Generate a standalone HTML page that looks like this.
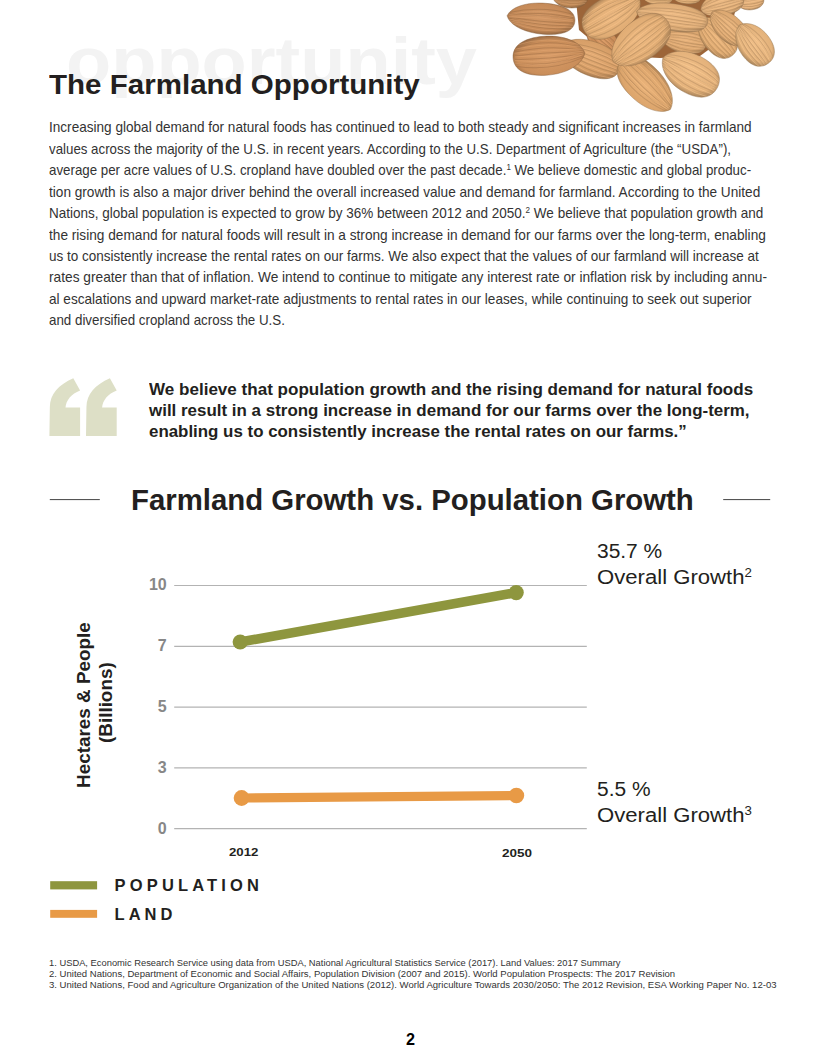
<!DOCTYPE html>
<html><head><meta charset="utf-8"><style>
*{margin:0;padding:0;box-sizing:border-box}
html,body{width:820px;height:1061px;background:#fff;overflow:hidden}
body{position:relative;font-family:"Liberation Sans", sans-serif}
.t{position:absolute;white-space:nowrap;line-height:1.117;transform-origin:0 0}
.t sup{font-size:0.6em;vertical-align:0.55em;line-height:0}
.t sup.s2{font-size:0.6em;vertical-align:0.62em}
svg.bg{position:absolute;left:0;top:0}
</style></head>
<body>
<svg class="bg" width="820" height="1061" viewBox="0 0 820 1061">
<g id="almonds"><defs><radialGradient id="g0" cx="0.5" cy="0.45" r="0.6"><stop offset="0" stop-color="#ce9866"/><stop offset="0.72" stop-color="#c08a58"/><stop offset="1" stop-color="#825d3b"/></radialGradient><clipPath id="c0"><path d="M-18.0,0 C-16.2,-7.2 -8.1,-12.0 1.8,-12.0 C12.6,-12.0 18.0,-7.2 18.0,0 C18.0,7.2 12.6,12.0 1.8,12.0 C-8.1,12.0 -16.2,7.2 -18.0,0Z"/></clipPath><radialGradient id="g1" cx="0.5" cy="0.45" r="0.6"><stop offset="0" stop-color="#e7b67f"/><stop offset="0.72" stop-color="#d9a871"/><stop offset="1" stop-color="#93724c"/></radialGradient><clipPath id="c1"><path d="M-15.0,0 C-13.5,-4.8 -6.8,-8.0 1.5,-8.0 C10.5,-8.0 15.0,-4.8 15.0,0 C15.0,4.8 10.5,8.0 1.5,8.0 C-6.8,8.0 -13.5,4.8 -15.0,0Z"/></clipPath><radialGradient id="g2" cx="0.5" cy="0.45" r="0.6"><stop offset="0" stop-color="#e7b67f"/><stop offset="0.72" stop-color="#d9a871"/><stop offset="1" stop-color="#93724c"/></radialGradient><clipPath id="c2"><path d="M-14.0,0 C-12.6,-4.2 -6.3,-7.0 1.4,-7.0 C9.8,-7.0 14.0,-4.2 14.0,0 C14.0,4.2 9.8,7.0 1.4,7.0 C-6.3,7.0 -12.6,4.2 -14.0,0Z"/></clipPath><radialGradient id="g3" cx="0.5" cy="0.45" r="0.6"><stop offset="0" stop-color="#ecba84"/><stop offset="0.72" stop-color="#deac76"/><stop offset="1" stop-color="#967450"/></radialGradient><clipPath id="c3"><path d="M-14.0,0 C-12.6,-6.0 -6.3,-10.0 1.4,-10.0 C9.8,-10.0 14.0,-6.0 14.0,0 C14.0,6.0 9.8,10.0 1.4,10.0 C-6.3,10.0 -12.6,6.0 -14.0,0Z"/></clipPath><radialGradient id="g4" cx="0.5" cy="0.45" r="0.6"><stop offset="0" stop-color="#ecba84"/><stop offset="0.72" stop-color="#deac76"/><stop offset="1" stop-color="#967450"/></radialGradient><clipPath id="c4"><path d="M-22.0,0 C-19.8,-7.2 -9.9,-12.0 2.2,-12.0 C15.4,-12.0 22.0,-7.2 22.0,0 C22.0,7.2 15.4,12.0 2.2,12.0 C-9.9,12.0 -19.8,7.2 -22.0,0Z"/></clipPath><radialGradient id="g5" cx="0.5" cy="0.45" r="0.6"><stop offset="0" stop-color="#e7b37c"/><stop offset="0.72" stop-color="#d9a56e"/><stop offset="1" stop-color="#93704a"/></radialGradient><clipPath id="c5"><path d="M-23.0,0 C-20.7,-7.8 -10.3,-13.0 2.3,-13.0 C16.1,-13.0 23.0,-7.8 23.0,0 C23.0,7.8 16.1,13.0 2.3,13.0 C-10.3,13.0 -20.7,7.8 -23.0,0Z"/></clipPath><radialGradient id="g6" cx="0.5" cy="0.45" r="0.6"><stop offset="0" stop-color="#d89a66"/><stop offset="0.72" stop-color="#ca8c58"/><stop offset="1" stop-color="#895f3b"/></radialGradient><clipPath id="c6"><path d="M-18.0,0 C-16.2,-7.2 -8.1,-12.0 1.8,-12.0 C12.6,-12.0 18.0,-7.2 18.0,0 C18.0,7.2 12.6,12.0 1.8,12.0 C-8.1,12.0 -16.2,7.2 -18.0,0Z"/></clipPath><radialGradient id="g7" cx="0.5" cy="0.45" r="0.6"><stop offset="0" stop-color="#e4ac75"/><stop offset="0.72" stop-color="#d69e67"/><stop offset="1" stop-color="#916b46"/></radialGradient><clipPath id="c7"><path d="M-32.0,0 C-28.8,-10.2 -14.4,-17.0 3.2,-17.0 C22.4,-17.0 32.0,-10.2 32.0,0 C32.0,10.2 22.4,17.0 3.2,17.0 C-14.4,17.0 -28.8,10.2 -32.0,0Z"/></clipPath><radialGradient id="g8" cx="0.5" cy="0.45" r="0.6"><stop offset="0" stop-color="#ecb87f"/><stop offset="0.72" stop-color="#deaa71"/><stop offset="1" stop-color="#96734c"/></radialGradient><clipPath id="c8"><path d="M-24.0,0 C-21.6,-9.0 -10.8,-15.0 2.4,-15.0 C16.8,-15.0 24.0,-9.0 24.0,0 C24.0,9.0 16.8,15.0 2.4,15.0 C-10.8,15.0 -21.6,9.0 -24.0,0Z"/></clipPath><radialGradient id="g9" cx="0.5" cy="0.45" r="0.6"><stop offset="0" stop-color="#eab67f"/><stop offset="0.72" stop-color="#dca871"/><stop offset="1" stop-color="#95724c"/></radialGradient><clipPath id="c9"><path d="M-22.0,0 C-19.8,-7.8 -9.9,-13.0 2.2,-13.0 C15.4,-13.0 22.0,-7.8 22.0,0 C22.0,7.8 15.4,13.0 2.2,13.0 C-9.9,13.0 -19.8,7.8 -22.0,0Z"/></clipPath><radialGradient id="g10" cx="0.5" cy="0.45" r="0.6"><stop offset="0" stop-color="#f1c089"/><stop offset="0.72" stop-color="#e3b27b"/><stop offset="1" stop-color="#9a7953"/></radialGradient><clipPath id="c10"><path d="M-24.0,0 C-21.6,-9.6 -10.8,-16.0 2.4,-16.0 C16.8,-16.0 24.0,-9.6 24.0,0 C24.0,9.6 16.8,16.0 2.4,16.0 C-10.8,16.0 -21.6,9.6 -24.0,0Z"/></clipPath><radialGradient id="g11" cx="0.5" cy="0.45" r="0.6"><stop offset="0" stop-color="#d39866"/><stop offset="0.72" stop-color="#c58a58"/><stop offset="1" stop-color="#855d3b"/></radialGradient><clipPath id="c11"><path d="M-34.0,0 C-30.6,-9.3 -15.3,-15.5 3.4,-15.5 C23.8,-15.5 34.0,-9.3 34.0,0 C34.0,9.3 23.8,15.5 3.4,15.5 C-15.3,15.5 -30.6,9.3 -34.0,0Z"/></clipPath><radialGradient id="g12" cx="0.5" cy="0.45" r="0.6"><stop offset="0" stop-color="#eeba82"/><stop offset="0.72" stop-color="#e0ac74"/><stop offset="1" stop-color="#98744e"/></radialGradient><clipPath id="c12"><path d="M-32.0,0 C-28.8,-11.4 -14.4,-19.0 3.2,-19.0 C22.4,-19.0 32.0,-11.4 32.0,0 C32.0,11.4 22.4,19.0 3.2,19.0 C-14.4,19.0 -28.8,11.4 -32.0,0Z"/></clipPath><radialGradient id="g13" cx="0.5" cy="0.45" r="0.6"><stop offset="0" stop-color="#ecba84"/><stop offset="0.72" stop-color="#deac76"/><stop offset="1" stop-color="#967450"/></radialGradient><clipPath id="c13"><path d="M-36.0,0 C-32.4,-8.1 -16.2,-13.5 3.6,-13.5 C25.2,-13.5 36.0,-8.1 36.0,0 C36.0,8.1 25.2,13.5 3.6,13.5 C-16.2,13.5 -32.4,8.1 -36.0,0Z"/></clipPath><radialGradient id="g14" cx="0.5" cy="0.45" r="0.6"><stop offset="0" stop-color="#f2c089"/><stop offset="0.72" stop-color="#e4b27b"/><stop offset="1" stop-color="#9b7953"/></radialGradient><clipPath id="c14"><path d="M-31.0,0 C-27.9,-11.7 -14.0,-19.5 3.1,-19.5 C21.7,-19.5 31.0,-11.7 31.0,0 C31.0,11.7 21.7,19.5 3.1,19.5 C-14.0,19.5 -27.9,11.7 -31.0,0Z"/></clipPath><radialGradient id="g15" cx="0.5" cy="0.45" r="0.6"><stop offset="0" stop-color="#eab37a"/><stop offset="0.72" stop-color="#dca56c"/><stop offset="1" stop-color="#957049"/></radialGradient><clipPath id="c15"><path d="M-34.5,0 C-31.1,-11.1 -15.5,-18.5 3.5,-18.5 C24.1,-18.5 34.5,-11.1 34.5,0 C34.5,11.1 24.1,18.5 3.5,18.5 C-15.5,18.5 -31.1,11.1 -34.5,0Z"/></clipPath><radialGradient id="g16" cx="0.5" cy="0.45" r="0.6"><stop offset="0" stop-color="#d89c68"/><stop offset="0.72" stop-color="#ca8e5a"/><stop offset="1" stop-color="#89603d"/></radialGradient><clipPath id="c16"><path d="M-36.0,0 C-32.4,-11.7 -16.2,-19.5 3.6,-19.5 C25.2,-19.5 36.0,-11.7 36.0,0 C36.0,11.7 25.2,19.5 3.6,19.5 C-16.2,19.5 -32.4,11.7 -36.0,0Z"/></clipPath><radialGradient id="g17" cx="0.5" cy="0.45" r="0.6"><stop offset="0" stop-color="#eeba82"/><stop offset="0.72" stop-color="#e0ac74"/><stop offset="1" stop-color="#98744e"/></radialGradient><clipPath id="c17"><path d="M-34.0,0 C-30.6,-12.0 -15.3,-20.0 3.4,-20.0 C23.8,-20.0 34.0,-12.0 34.0,0 C34.0,12.0 23.8,20.0 3.4,20.0 C-15.3,20.0 -30.6,12.0 -34.0,0Z"/></clipPath></defs><path d="M576,0 L738,0 L733,20 L715,45 L700,56 L660,58 L620,56 L598,46 L579,30 Z" fill="#9c6539"/><g transform="translate(570,-4) rotate(0)"><path d="M-18.0,0 C-16.2,-7.2 -8.1,-12.0 1.8,-12.0 C12.6,-12.0 18.0,-7.2 18.0,0 C18.0,7.2 12.6,12.0 1.8,12.0 C-8.1,12.0 -16.2,7.2 -18.0,0Z" fill="url(#g0)" stroke="#825d3b" stroke-width="0.7" stroke-opacity="0.6"/><g clip-path="url(#c0)" fill="none"><path d="M-17.1,-3.0 Q0.0,-11.7 17.1,-5.8 M-17.1,-1.7 Q0.0,-6.6 17.1,-3.3 M-17.1,-0.7 Q0.0,-2.5 17.1,-1.3 M-17.1,0.6 Q0.0,2.4 17.1,1.2 M-17.1,1.8 Q0.0,6.9 17.1,3.5 M-17.1,2.6 Q0.0,10.1 17.1,5.1" stroke="#956b44" stroke-width="1" opacity="0.5"/><path d="M-17.1,-3.0 Q0.0,-11.7 17.1,-5.8 M-17.1,-1.7 Q0.0,-6.6 17.1,-3.3 M-17.1,-0.7 Q0.0,-2.5 17.1,-1.3 M-17.1,0.6 Q0.0,2.4 17.1,1.2 M-17.1,1.8 Q0.0,6.9 17.1,3.5 M-17.1,2.6 Q0.0,10.1 17.1,5.1" transform="translate(0,1.8)" stroke="#dea876" stroke-width="0.8" opacity="0.5"/></g></g><g transform="translate(658,-3) rotate(0)"><path d="M-15.0,0 C-13.5,-4.8 -6.8,-8.0 1.5,-8.0 C10.5,-8.0 15.0,-4.8 15.0,0 C15.0,4.8 10.5,8.0 1.5,8.0 C-6.8,8.0 -13.5,4.8 -15.0,0Z" fill="url(#g1)" stroke="#93724c" stroke-width="0.7" stroke-opacity="0.6"/><g clip-path="url(#c1)" fill="none"><path d="M-14.2,-2.1 Q0.0,-8.1 14.2,-4.1 M-14.2,-1.0 Q0.0,-3.9 14.2,-2.0 M-14.2,-0.5 Q0.0,-1.8 14.2,-0.9 M-14.2,0.3 Q0.0,1.1 14.2,0.5 M-14.2,1.3 Q0.0,5.2 14.2,2.6 M-14.2,1.9 Q0.0,7.3 14.2,3.7" stroke="#a98358" stroke-width="1" opacity="0.5"/><path d="M-14.2,-2.1 Q0.0,-8.1 14.2,-4.1 M-14.2,-1.0 Q0.0,-3.9 14.2,-2.0 M-14.2,-0.5 Q0.0,-1.8 14.2,-0.9 M-14.2,0.3 Q0.0,1.1 14.2,0.5 M-14.2,1.3 Q0.0,5.2 14.2,2.6 M-14.2,1.9 Q0.0,7.3 14.2,3.7" transform="translate(0,1.2)" stroke="#f7c68f" stroke-width="0.8" opacity="0.5"/></g></g><g transform="translate(687,-3) rotate(0)"><path d="M-14.0,0 C-12.6,-4.2 -6.3,-7.0 1.4,-7.0 C9.8,-7.0 14.0,-4.2 14.0,0 C14.0,4.2 9.8,7.0 1.4,7.0 C-6.3,7.0 -12.6,4.2 -14.0,0Z" fill="url(#g2)" stroke="#93724c" stroke-width="0.7" stroke-opacity="0.6"/><g clip-path="url(#c2)" fill="none"><path d="M-13.3,-1.6 Q0.0,-6.0 13.3,-3.0 M-13.3,-1.0 Q0.0,-3.9 13.3,-2.0 M-13.3,-0.3 Q0.0,-1.1 13.3,-0.6 M-13.3,0.2 Q0.0,0.8 13.3,0.4 M-13.3,1.1 Q0.0,4.1 13.3,2.0 M-13.3,1.8 Q0.0,6.9 13.3,3.5" stroke="#a98358" stroke-width="1" opacity="0.5"/><path d="M-13.3,-1.6 Q0.0,-6.0 13.3,-3.0 M-13.3,-1.0 Q0.0,-3.9 13.3,-2.0 M-13.3,-0.3 Q0.0,-1.1 13.3,-0.6 M-13.3,0.2 Q0.0,0.8 13.3,0.4 M-13.3,1.1 Q0.0,4.1 13.3,2.0 M-13.3,1.8 Q0.0,6.9 13.3,3.5" transform="translate(0,1.1)" stroke="#f7c68f" stroke-width="0.8" opacity="0.5"/></g></g><g transform="translate(750,0) rotate(-10)"><path d="M-14.0,0 C-12.6,-6.0 -6.3,-10.0 1.4,-10.0 C9.8,-10.0 14.0,-6.0 14.0,0 C14.0,6.0 9.8,10.0 1.4,10.0 C-6.3,10.0 -12.6,6.0 -14.0,0Z" fill="url(#g3)" stroke="#967450" stroke-width="0.7" stroke-opacity="0.6"/><g clip-path="url(#c3)" fill="none"><path d="M-13.3,-2.4 Q0.0,-9.2 13.3,-4.6 M-13.3,-1.3 Q0.0,-5.1 13.3,-2.5 M-13.3,-0.4 Q0.0,-1.5 13.3,-0.8 M-13.3,0.3 Q0.0,1.0 13.3,0.5 M-13.3,1.6 Q0.0,6.0 13.3,3.0 M-13.3,2.4 Q0.0,9.4 13.3,4.7" stroke="#ad865c" stroke-width="1" opacity="0.5"/><path d="M-13.3,-2.4 Q0.0,-9.2 13.3,-4.6 M-13.3,-1.3 Q0.0,-5.1 13.3,-2.5 M-13.3,-0.4 Q0.0,-1.5 13.3,-0.8 M-13.3,0.3 Q0.0,1.0 13.3,0.5 M-13.3,1.6 Q0.0,6.0 13.3,3.0 M-13.3,2.4 Q0.0,9.4 13.3,4.7" transform="translate(0,1.5)" stroke="#fcca94" stroke-width="0.8" opacity="0.5"/></g></g><g transform="translate(722,4) rotate(-15)"><path d="M-22.0,0 C-19.8,-7.2 -9.9,-12.0 2.2,-12.0 C15.4,-12.0 22.0,-7.2 22.0,0 C22.0,7.2 15.4,12.0 2.2,12.0 C-9.9,12.0 -19.8,7.2 -22.0,0Z" fill="url(#g4)" stroke="#967450" stroke-width="0.7" stroke-opacity="0.6"/><g clip-path="url(#c4)" fill="none"><path d="M-20.9,-3.0 Q0.0,-11.5 20.9,-5.8 M-20.9,-2.0 Q0.0,-7.7 20.9,-3.8 M-20.9,-0.4 Q0.0,-1.4 20.9,-0.7 M-20.9,0.6 Q0.0,2.2 20.9,1.1 M-20.9,1.9 Q0.0,7.1 20.9,3.6 M-20.9,3.1 Q0.0,11.9 20.9,6.0" stroke="#ad865c" stroke-width="1" opacity="0.5"/><path d="M-20.9,-3.0 Q0.0,-11.5 20.9,-5.8 M-20.9,-2.0 Q0.0,-7.7 20.9,-3.8 M-20.9,-0.4 Q0.0,-1.4 20.9,-0.7 M-20.9,0.6 Q0.0,2.2 20.9,1.1 M-20.9,1.9 Q0.0,7.1 20.9,3.6 M-20.9,3.1 Q0.0,11.9 20.9,6.0" transform="translate(0,1.8)" stroke="#fcca94" stroke-width="0.8" opacity="0.5"/></g></g><g transform="translate(684,40) rotate(10)"><path d="M-23.0,0 C-20.7,-7.8 -10.3,-13.0 2.3,-13.0 C16.1,-13.0 23.0,-7.8 23.0,0 C23.0,7.8 16.1,13.0 2.3,13.0 C-10.3,13.0 -20.7,7.8 -23.0,0Z" fill="url(#g5)" stroke="#93704a" stroke-width="0.7" stroke-opacity="0.6"/><g clip-path="url(#c5)" fill="none"><path d="M-21.8,-3.0 Q0.0,-11.5 21.8,-5.7 M-21.8,-1.6 Q0.0,-6.2 21.8,-3.1 M-21.8,-0.7 Q0.0,-2.7 21.8,-1.3 M-21.8,0.8 Q0.0,3.1 21.8,1.6 M-21.8,1.8 Q0.0,7.1 21.8,3.5 M-21.8,3.4 Q0.0,13.1 21.8,6.5" stroke="#a98055" stroke-width="1" opacity="0.5"/><path d="M-21.8,-3.0 Q0.0,-11.5 21.8,-5.7 M-21.8,-1.6 Q0.0,-6.2 21.8,-3.1 M-21.8,-0.7 Q0.0,-2.7 21.8,-1.3 M-21.8,0.8 Q0.0,3.1 21.8,1.6 M-21.8,1.8 Q0.0,7.1 21.8,3.5 M-21.8,3.4 Q0.0,13.1 21.8,6.5" transform="translate(0,1.9)" stroke="#f7c38c" stroke-width="0.8" opacity="0.5"/></g></g><g transform="translate(602,40) rotate(40)"><path d="M-18.0,0 C-16.2,-7.2 -8.1,-12.0 1.8,-12.0 C12.6,-12.0 18.0,-7.2 18.0,0 C18.0,7.2 12.6,12.0 1.8,12.0 C-8.1,12.0 -16.2,7.2 -18.0,0Z" fill="url(#g6)" stroke="#895f3b" stroke-width="0.7" stroke-opacity="0.6"/><g clip-path="url(#c6)" fill="none"><path d="M-17.1,-2.7 Q0.0,-10.2 17.1,-5.1 M-17.1,-2.0 Q0.0,-7.5 17.1,-3.8 M-17.1,-0.8 Q0.0,-3.0 17.1,-1.5 M-17.1,0.4 Q0.0,1.6 17.1,0.8 M-17.1,2.0 Q0.0,7.7 17.1,3.8 M-17.1,2.8 Q0.0,10.9 17.1,5.5" stroke="#9d6d44" stroke-width="1" opacity="0.5"/><path d="M-17.1,-2.7 Q0.0,-10.2 17.1,-5.1 M-17.1,-2.0 Q0.0,-7.5 17.1,-3.8 M-17.1,-0.8 Q0.0,-3.0 17.1,-1.5 M-17.1,0.4 Q0.0,1.6 17.1,0.8 M-17.1,2.0 Q0.0,7.7 17.1,3.8 M-17.1,2.8 Q0.0,10.9 17.1,5.5" transform="translate(0,1.8)" stroke="#e8aa76" stroke-width="0.8" opacity="0.5"/></g></g><g transform="translate(590,58) rotate(21)"><path d="M-32.0,0 C-28.8,-10.2 -14.4,-17.0 3.2,-17.0 C22.4,-17.0 32.0,-10.2 32.0,0 C32.0,10.2 22.4,17.0 3.2,17.0 C-14.4,17.0 -28.8,10.2 -32.0,0Z" fill="url(#g7)" stroke="#916b46" stroke-width="0.7" stroke-opacity="0.6"/><g clip-path="url(#c7)" fill="none"><path d="M-30.4,-4.0 Q0.0,-15.3 30.4,-7.7 M-30.4,-2.6 Q0.0,-10.0 30.4,-5.0 M-30.4,-0.8 Q0.0,-3.1 30.4,-1.6 M-30.4,0.7 Q0.0,2.8 30.4,1.4 M-30.4,2.3 Q0.0,9.0 30.4,4.5 M-30.4,4.1 Q0.0,16.0 30.4,8.0" stroke="#a67b50" stroke-width="1" opacity="0.5"/><path d="M-30.4,-4.0 Q0.0,-15.3 30.4,-7.7 M-30.4,-2.6 Q0.0,-10.0 30.4,-5.0 M-30.4,-0.8 Q0.0,-3.1 30.4,-1.6 M-30.4,0.7 Q0.0,2.8 30.4,1.4 M-30.4,2.3 Q0.0,9.0 30.4,4.5 M-30.4,4.1 Q0.0,16.0 30.4,8.0" transform="translate(0,2.5)" stroke="#f4bc85" stroke-width="0.8" opacity="0.5"/></g></g><g transform="translate(717,37) rotate(48)"><path d="M-24.0,0 C-21.6,-9.0 -10.8,-15.0 2.4,-15.0 C16.8,-15.0 24.0,-9.0 24.0,0 C24.0,9.0 16.8,15.0 2.4,15.0 C-10.8,15.0 -21.6,9.0 -24.0,0Z" fill="url(#g8)" stroke="#96734c" stroke-width="0.7" stroke-opacity="0.6"/><g clip-path="url(#c8)" fill="none"><path d="M-22.8,-3.5 Q0.0,-13.6 22.8,-6.8 M-22.8,-1.9 Q0.0,-7.2 22.8,-3.6 M-22.8,-0.6 Q0.0,-2.3 22.8,-1.1 M-22.8,1.0 Q0.0,4.0 22.8,2.0 M-22.8,2.4 Q0.0,9.3 22.8,4.7 M-22.8,4.0 Q0.0,15.2 22.8,7.6" stroke="#ad8458" stroke-width="1" opacity="0.5"/><path d="M-22.8,-3.5 Q0.0,-13.6 22.8,-6.8 M-22.8,-1.9 Q0.0,-7.2 22.8,-3.6 M-22.8,-0.6 Q0.0,-2.3 22.8,-1.1 M-22.8,1.0 Q0.0,4.0 22.8,2.0 M-22.8,2.4 Q0.0,9.3 22.8,4.7 M-22.8,4.0 Q0.0,15.2 22.8,7.6" transform="translate(0,2.2)" stroke="#fcc88f" stroke-width="0.8" opacity="0.5"/></g></g><g transform="translate(728,27) rotate(43)"><path d="M-22.0,0 C-19.8,-7.8 -9.9,-13.0 2.2,-13.0 C15.4,-13.0 22.0,-7.8 22.0,0 C22.0,7.8 15.4,13.0 2.2,13.0 C-9.9,13.0 -19.8,7.8 -22.0,0Z" fill="url(#g9)" stroke="#95724c" stroke-width="0.7" stroke-opacity="0.6"/><g clip-path="url(#c9)" fill="none"><path d="M-20.9,-3.0 Q0.0,-11.6 20.9,-5.8 M-20.9,-2.1 Q0.0,-8.0 20.9,-4.0 M-20.9,-0.4 Q0.0,-1.5 20.9,-0.8 M-20.9,0.9 Q0.0,3.5 20.9,1.8 M-20.9,2.1 Q0.0,8.2 20.9,4.1 M-20.9,3.2 Q0.0,12.2 20.9,6.1" stroke="#ab8358" stroke-width="1" opacity="0.5"/><path d="M-20.9,-3.0 Q0.0,-11.6 20.9,-5.8 M-20.9,-2.1 Q0.0,-8.0 20.9,-4.0 M-20.9,-0.4 Q0.0,-1.5 20.9,-0.8 M-20.9,0.9 Q0.0,3.5 20.9,1.8 M-20.9,2.1 Q0.0,8.2 20.9,4.1 M-20.9,3.2 Q0.0,12.2 20.9,6.1" transform="translate(0,1.9)" stroke="#fac68f" stroke-width="0.8" opacity="0.5"/></g></g><g transform="translate(754,44) rotate(53)"><path d="M-24.0,0 C-21.6,-9.6 -10.8,-16.0 2.4,-16.0 C16.8,-16.0 24.0,-9.6 24.0,0 C24.0,9.6 16.8,16.0 2.4,16.0 C-10.8,16.0 -21.6,9.6 -24.0,0Z" fill="url(#g10)" stroke="#9a7953" stroke-width="0.7" stroke-opacity="0.6"/><g clip-path="url(#c10)" fill="none"><path d="M-22.8,-3.7 Q0.0,-14.2 22.8,-7.1 M-22.8,-2.5 Q0.0,-9.7 22.8,-4.9 M-22.8,-0.5 Q0.0,-2.0 22.8,-1.0 M-22.8,0.8 Q0.0,3.2 22.8,1.6 M-22.8,2.1 Q0.0,8.2 22.8,4.1 M-22.8,3.5 Q0.0,13.5 22.8,6.7" stroke="#b18a5f" stroke-width="1" opacity="0.5"/><path d="M-22.8,-3.7 Q0.0,-14.2 22.8,-7.1 M-22.8,-2.5 Q0.0,-9.7 22.8,-4.9 M-22.8,-0.5 Q0.0,-2.0 22.8,-1.0 M-22.8,0.8 Q0.0,3.2 22.8,1.6 M-22.8,2.1 Q0.0,8.2 22.8,4.1 M-22.8,3.5 Q0.0,13.5 22.8,6.7" transform="translate(0,2.4)" stroke="#ffd099" stroke-width="0.8" opacity="0.5"/></g></g><g transform="translate(541,18.5) rotate(4.6)"><path d="M-34.0,0 C-30.6,-9.3 -15.3,-15.5 3.4,-15.5 C23.8,-15.5 34.0,-9.3 34.0,0 C34.0,9.3 23.8,15.5 3.4,15.5 C-15.3,15.5 -30.6,9.3 -34.0,0Z" fill="url(#g11)" stroke="#855d3b" stroke-width="0.7" stroke-opacity="0.6"/><g clip-path="url(#c11)" fill="none"><path d="M-32.3,-3.5 Q0.0,-13.3 32.3,-6.7 M-32.3,-1.9 Q0.0,-7.2 32.3,-3.6 M-32.3,-1.1 Q0.0,-4.0 32.3,-2.0 M-32.3,1.0 Q0.0,3.7 32.3,1.9 M-32.3,2.2 Q0.0,8.3 32.3,4.2 M-32.3,3.5 Q0.0,13.3 32.3,6.7" stroke="#996b44" stroke-width="1" opacity="0.5"/><path d="M-32.3,-3.5 Q0.0,-13.3 32.3,-6.7 M-32.3,-1.9 Q0.0,-7.2 32.3,-3.6 M-32.3,-1.1 Q0.0,-4.0 32.3,-2.0 M-32.3,1.0 Q0.0,3.7 32.3,1.9 M-32.3,2.2 Q0.0,8.3 32.3,4.2 M-32.3,3.5 Q0.0,13.3 32.3,6.7" transform="translate(0,2.3)" stroke="#e3a876" stroke-width="0.8" opacity="0.5"/></g></g><g transform="translate(612,15) rotate(150)"><path d="M-32.0,0 C-28.8,-11.4 -14.4,-19.0 3.2,-19.0 C22.4,-19.0 32.0,-11.4 32.0,0 C32.0,11.4 22.4,19.0 3.2,19.0 C-14.4,19.0 -28.8,11.4 -32.0,0Z" fill="url(#g12)" stroke="#98744e" stroke-width="0.7" stroke-opacity="0.6"/><g clip-path="url(#c12)" fill="none"><path d="M-30.4,-4.7 Q0.0,-18.3 30.4,-9.1 M-30.4,-2.5 Q0.0,-9.6 30.4,-4.8 M-30.4,-0.6 Q0.0,-2.2 30.4,-1.1 M-30.4,0.5 Q0.0,1.9 30.4,1.0 M-30.4,2.8 Q0.0,10.9 30.4,5.5 M-30.4,4.1 Q0.0,16.0 30.4,8.0" stroke="#ae865a" stroke-width="1" opacity="0.5"/><path d="M-30.4,-4.7 Q0.0,-18.3 30.4,-9.1 M-30.4,-2.5 Q0.0,-9.6 30.4,-4.8 M-30.4,-0.6 Q0.0,-2.2 30.4,-1.1 M-30.4,0.5 Q0.0,1.9 30.4,1.0 M-30.4,2.8 Q0.0,10.9 30.4,5.5 M-30.4,4.1 Q0.0,16.0 30.4,8.0" transform="translate(0,2.9)" stroke="#feca92" stroke-width="0.8" opacity="0.5"/></g></g><g transform="translate(672,17) rotate(8.7)"><path d="M-36.0,0 C-32.4,-8.1 -16.2,-13.5 3.6,-13.5 C25.2,-13.5 36.0,-8.1 36.0,0 C36.0,8.1 25.2,13.5 3.6,13.5 C-16.2,13.5 -32.4,8.1 -36.0,0Z" fill="url(#g13)" stroke="#967450" stroke-width="0.7" stroke-opacity="0.6"/><g clip-path="url(#c13)" fill="none"><path d="M-34.2,-3.1 Q0.0,-11.9 34.2,-6.0 M-34.2,-2.1 Q0.0,-7.9 34.2,-4.0 M-34.2,-0.4 Q0.0,-1.5 34.2,-0.8 M-34.2,1.0 Q0.0,3.7 34.2,1.8 M-34.2,1.9 Q0.0,7.5 34.2,3.7 M-34.2,3.6 Q0.0,13.7 34.2,6.9" stroke="#ad865c" stroke-width="1" opacity="0.5"/><path d="M-34.2,-3.1 Q0.0,-11.9 34.2,-6.0 M-34.2,-2.1 Q0.0,-7.9 34.2,-4.0 M-34.2,-0.4 Q0.0,-1.5 34.2,-0.8 M-34.2,1.0 Q0.0,3.7 34.2,1.8 M-34.2,1.9 Q0.0,7.5 34.2,3.7 M-34.2,3.6 Q0.0,13.7 34.2,6.9" transform="translate(0,2.0)" stroke="#fcca94" stroke-width="0.8" opacity="0.5"/></g></g><g transform="translate(690,73) rotate(29)"><path d="M-31.0,0 C-27.9,-11.7 -14.0,-19.5 3.1,-19.5 C21.7,-19.5 31.0,-11.7 31.0,0 C31.0,11.7 21.7,19.5 3.1,19.5 C-14.0,19.5 -27.9,11.7 -31.0,0Z" fill="url(#g14)" stroke="#9b7953" stroke-width="0.7" stroke-opacity="0.6"/><g clip-path="url(#c14)" fill="none"><path d="M-29.4,-4.9 Q0.0,-18.7 29.4,-9.4 M-29.4,-3.2 Q0.0,-12.3 29.4,-6.2 M-29.4,-0.8 Q0.0,-3.2 29.4,-1.6 M-29.4,0.5 Q0.0,1.9 29.4,1.0 M-29.4,2.5 Q0.0,9.7 29.4,4.9 M-29.4,4.6 Q0.0,17.7 29.4,8.8" stroke="#b18a5f" stroke-width="1" opacity="0.5"/><path d="M-29.4,-4.9 Q0.0,-18.7 29.4,-9.4 M-29.4,-3.2 Q0.0,-12.3 29.4,-6.2 M-29.4,-0.8 Q0.0,-3.2 29.4,-1.6 M-29.4,0.5 Q0.0,1.9 29.4,1.0 M-29.4,2.5 Q0.0,9.7 29.4,4.9 M-29.4,4.6 Q0.0,17.7 29.4,8.8" transform="translate(0,2.9)" stroke="#ffd099" stroke-width="0.8" opacity="0.5"/></g></g><g transform="translate(646,85) rotate(225)"><path d="M-34.5,0 C-31.1,-11.1 -15.5,-18.5 3.5,-18.5 C24.1,-18.5 34.5,-11.1 34.5,0 C34.5,11.1 24.1,18.5 3.5,18.5 C-15.5,18.5 -31.1,11.1 -34.5,0Z" fill="url(#g15)" stroke="#957049" stroke-width="0.7" stroke-opacity="0.6"/><g clip-path="url(#c15)" fill="none"><path d="M-32.8,-4.3 Q0.0,-16.7 32.8,-8.4 M-32.8,-3.0 Q0.0,-11.4 32.8,-5.7 M-32.8,-1.3 Q0.0,-5.0 32.8,-2.5 M-32.8,1.2 Q0.0,4.7 32.8,2.3 M-32.8,2.5 Q0.0,9.6 32.8,4.8 M-32.8,4.8 Q0.0,18.7 32.8,9.3" stroke="#ab8054" stroke-width="1" opacity="0.5"/><path d="M-32.8,-4.3 Q0.0,-16.7 32.8,-8.4 M-32.8,-3.0 Q0.0,-11.4 32.8,-5.7 M-32.8,-1.3 Q0.0,-5.0 32.8,-2.5 M-32.8,1.2 Q0.0,4.7 32.8,2.3 M-32.8,2.5 Q0.0,9.6 32.8,4.8 M-32.8,4.8 Q0.0,18.7 32.8,9.3" transform="translate(0,2.8)" stroke="#fac38a" stroke-width="0.8" opacity="0.5"/></g></g><g transform="translate(549,55.5) rotate(176)"><path d="M-36.0,0 C-32.4,-11.7 -16.2,-19.5 3.6,-19.5 C25.2,-19.5 36.0,-11.7 36.0,0 C36.0,11.7 25.2,19.5 3.6,19.5 C-16.2,19.5 -32.4,11.7 -36.0,0Z" fill="url(#g16)" stroke="#89603d" stroke-width="0.7" stroke-opacity="0.6"/><g clip-path="url(#c16)" fill="none"><path d="M-34.2,-4.3 Q0.0,-16.6 34.2,-8.3 M-34.2,-2.9 Q0.0,-11.3 34.2,-5.6 M-34.2,-1.0 Q0.0,-3.7 34.2,-1.9 M-34.2,1.0 Q0.0,3.7 34.2,1.8 M-34.2,2.9 Q0.0,11.3 34.2,5.7 M-34.2,4.8 Q0.0,18.4 34.2,9.2" stroke="#9d6e46" stroke-width="1" opacity="0.5"/><path d="M-34.2,-4.3 Q0.0,-16.6 34.2,-8.3 M-34.2,-2.9 Q0.0,-11.3 34.2,-5.6 M-34.2,-1.0 Q0.0,-3.7 34.2,-1.9 M-34.2,1.0 Q0.0,3.7 34.2,1.8 M-34.2,2.9 Q0.0,11.3 34.2,5.7 M-34.2,4.8 Q0.0,18.4 34.2,9.2" transform="translate(0,2.9)" stroke="#e8ac78" stroke-width="0.8" opacity="0.5"/></g></g><g transform="translate(640,41) rotate(-38)"><path d="M-34.0,0 C-30.6,-12.0 -15.3,-20.0 3.4,-20.0 C23.8,-20.0 34.0,-12.0 34.0,0 C34.0,12.0 23.8,20.0 3.4,20.0 C-15.3,20.0 -30.6,12.0 -34.0,0Z" fill="url(#g17)" stroke="#98744e" stroke-width="0.7" stroke-opacity="0.6"/><g clip-path="url(#c17)" fill="none"><path d="M-32.3,-4.7 Q0.0,-18.3 32.3,-9.1 M-32.3,-2.8 Q0.0,-10.6 32.3,-5.3 M-32.3,-0.5 Q0.0,-2.1 32.3,-1.0 M-32.3,1.0 Q0.0,3.7 32.3,1.9 M-32.3,2.8 Q0.0,10.8 32.3,5.4 M-32.3,5.0 Q0.0,19.3 32.3,9.6" stroke="#ae865a" stroke-width="1" opacity="0.5"/><path d="M-32.3,-4.7 Q0.0,-18.3 32.3,-9.1 M-32.3,-2.8 Q0.0,-10.6 32.3,-5.3 M-32.3,-0.5 Q0.0,-2.1 32.3,-1.0 M-32.3,1.0 Q0.0,3.7 32.3,1.9 M-32.3,2.8 Q0.0,10.8 32.3,5.4 M-32.3,5.0 Q0.0,19.3 32.3,9.6" transform="translate(0,3.0)" stroke="#feca92" stroke-width="0.8" opacity="0.5"/></g></g></g>
<g fill="#dddfc6">
<path d="M49.4,435.9 L80.1,435.9 L80.1,407.6 L65.5,407.6 C66,400.3 71.3,394 80.1,390.5 L73.3,378.3 C58.6,384.7 49.85,394.4 49.85,407.1 Z"/>
<path d="M86,435.9 L116.7,435.9 L116.7,407.6 L102.1,407.6 C102.6,400.3 107.9,394 116.7,390.5 L109.9,378.3 C95.2,384.7 86.45,394.4 86.45,407.1 Z"/>
</g>
<g fill="#555555">
<rect x="49.8" y="499" width="50" height="1.1"/>
<rect x="723.2" y="499" width="47" height="1.1"/>
</g>
<g stroke="#b3b3b3" stroke-width="1.2">
<line x1="174.2" y1="585.5" x2="586.8" y2="585.5"/>
<line x1="174.2" y1="646.3" x2="586.8" y2="646.3"/>
<line x1="174.2" y1="707.1" x2="586.8" y2="707.1"/>
<line x1="174.2" y1="767.9" x2="586.8" y2="767.9"/>
<line x1="174.2" y1="828.7" x2="586.8" y2="828.7"/>
</g>
<g stroke="#8e963e" fill="#8e963e">
<line x1="240.2" y1="642" x2="516.2" y2="592.6" stroke-width="9.6"/>
<circle cx="240.2" cy="642" r="7.6" stroke="none"/>
<circle cx="516.2" cy="592.6" r="7.6" stroke="none"/>
</g>
<g stroke="#e89a46" fill="#e89a46">
<line x1="241.6" y1="798" x2="516.4" y2="795.5" stroke-width="9.2"/>
<circle cx="241.6" cy="798" r="7.9" stroke="none"/>
<circle cx="516.4" cy="795.5" r="7.8" stroke="none"/>
</g>
<rect x="50.2" y="881.2" width="46.9" height="8.2" fill="#8e963e"/>
<rect x="50.2" y="909.9" width="46.9" height="7.9" fill="#e89a46"/>
</svg>

<div class="t" id="t0" style="font-size:66px;font-weight:700;color:#f3f3f3;left:66.40px;top:24.60px;transform:scaleX(1.1212);">opportunity</div>
<div class="t" id="t1" style="font-size:13.9px;font-weight:400;color:#333333;left:48.80px;top:120.20px;transform:scaleX(0.9774);">Increasing global demand for natural foods has continued to lead to both steady and significant increases in farmland</div>
<div class="t" id="t2" style="font-size:13.9px;font-weight:400;color:#333333;left:48.80px;top:141.67px;transform:scaleX(0.9571);">values across the majority of the U.S. in recent years. According to the U.S. Department of Agriculture (the &ldquo;USDA&rdquo;),</div>
<div class="t" id="t3" style="font-size:13.9px;font-weight:400;color:#333333;left:48.80px;top:163.14px;transform:scaleX(0.9584);">average per acre values of U.S. cropland have doubled over the past decade.<sup>1</sup> We believe domestic and global produc-</div>
<div class="t" id="t4" style="font-size:13.9px;font-weight:400;color:#333333;left:48.80px;top:184.61px;transform:scaleX(0.9810);">tion growth is also a major driver behind the overall increased value and demand for farmland. According to the United</div>
<div class="t" id="t5" style="font-size:13.9px;font-weight:400;color:#333333;left:48.80px;top:206.08px;transform:scaleX(0.9719);">Nations, global population is expected to grow by 36% between 2012 and 2050.<sup>2</sup> We believe that population growth and</div>
<div class="t" id="t6" style="font-size:13.9px;font-weight:400;color:#333333;left:48.80px;top:227.55px;transform:scaleX(0.9835);">the rising demand for natural foods will result in a strong increase in demand for our farms over the long-term, enabling</div>
<div class="t" id="t7" style="font-size:13.9px;font-weight:400;color:#333333;left:48.80px;top:249.02px;transform:scaleX(0.9721);">us to consistently increase the rental rates on our farms. We also expect that the values of our farmland will increase at</div>
<div class="t" id="t8" style="font-size:13.9px;font-weight:400;color:#333333;left:48.80px;top:270.49px;transform:scaleX(0.9875);">rates greater than that of inflation. We intend to continue to mitigate any interest rate or inflation risk by including annu-</div>
<div class="t" id="t9" style="font-size:13.9px;font-weight:400;color:#333333;left:48.80px;top:291.96px;transform:scaleX(0.9783);">al escalations and upward market-rate adjustments to rental rates in our leases, while continuing to seek out superior</div>
<div class="t" id="t10" style="font-size:13.9px;font-weight:400;color:#333333;left:48.80px;top:313.43px;transform:scaleX(0.9608);">and diversified cropland across the U.S.</div>
<div class="t" id="t11" style="font-size:28px;font-weight:700;color:#231f20;left:48.50px;top:69.40px;transform:scaleX(1.0547);">The Farmland Opportunity</div>
<div class="t" id="t12" style="font-size:16.6px;font-weight:700;color:#231f20;left:149.00px;top:381.10px;transform:scaleX(1.0277);">We believe that population growth and the rising demand for natural foods</div>
<div class="t" id="t13" style="font-size:16.6px;font-weight:700;color:#231f20;left:149.00px;top:402.30px;transform:scaleX(1.0209);">will result in a strong increase in demand for our farms over the long-term,</div>
<div class="t" id="t14" style="font-size:16.6px;font-weight:700;color:#231f20;left:149.00px;top:423.20px;transform:scaleX(1.0176);">enabling us to consistently increase the rental rates on our farms.&rdquo;</div>
<div class="t" id="t15" style="font-size:29px;font-weight:700;color:#231f20;left:130.70px;top:484.20px;transform:scaleX(1.0125);">Farmland Growth vs. Population Growth</div>
<div class="t" id="t16" style="font-size:16px;font-weight:700;color:#878787;left:148.90px;top:576.30px;">10</div>
<div class="t" id="t17" style="font-size:16px;font-weight:700;color:#878787;left:157.79px;top:637.10px;">7</div>
<div class="t" id="t18" style="font-size:16px;font-weight:700;color:#878787;left:157.79px;top:697.90px;">5</div>
<div class="t" id="t19" style="font-size:16px;font-weight:700;color:#878787;left:157.79px;top:758.70px;">3</div>
<div class="t" id="t20" style="font-size:16px;font-weight:700;color:#878787;left:157.79px;top:819.50px;">0</div>
<div class="t" id="t21" style="font-size:20px;font-weight:400;color:#231f20;left:596.60px;top:540.10px;transform:scaleX(1.0471);">35.7 %</div>
<div class="t" id="t22" style="font-size:20px;font-weight:400;color:#231f20;left:596.60px;top:565.50px;transform:scaleX(1.1059);">Overall Growth<sup class=s2>2</sup></div>
<div class="t" id="t23" style="font-size:20px;font-weight:400;color:#231f20;left:596.60px;top:777.90px;transform:scaleX(1.0458);">5.5 %</div>
<div class="t" id="t24" style="font-size:20px;font-weight:400;color:#231f20;left:596.60px;top:803.70px;transform:scaleX(1.1059);">Overall Growth<sup class=s2>3</sup></div>
<div class="t" id="t25" style="font-size:11.3px;font-weight:700;color:#231f20;left:228.50px;top:846.20px;transform:scaleX(1.1734);">2012</div>
<div class="t" id="t26" style="font-size:11.3px;font-weight:700;color:#231f20;left:502.10px;top:846.80px;transform:scaleX(1.1973);">2050</div>
<div class="t" id="t27" style="font-size:18.5px;font-weight:700;color:#231f20;left:89.90px;top:771.90px;transform-origin:0 16.00px;transform:rotate(-90deg) scaleX(1.0205);">Hectares &amp; People</div>
<div class="t" id="t28" style="font-size:17.5px;font-weight:700;color:#231f20;left:111.90px;top:728.00px;transform-origin:0 15.00px;transform:rotate(-90deg) scaleX(1.0780);">(Billions)</div>
<div class="t" id="t29" style="font-size:16.5px;font-weight:700;color:#231f20;left:114.60px;top:875.80px;letter-spacing:4.150px;">POPULATION</div>
<div class="t" id="t30" style="font-size:16.5px;font-weight:700;color:#231f20;left:114.60px;top:904.80px;letter-spacing:3.957px;">LAND</div>
<div class="t" id="t31" style="font-size:9.7px;font-weight:400;color:#333333;left:49.30px;top:958.30px;transform:scaleX(0.9652);">1. USDA, Economic Research Service using data from USDA, National Agricultural Statistics Service (2017). Land Values: 2017 Summary</div>
<div class="t" id="t32" style="font-size:9.7px;font-weight:400;color:#333333;left:49.30px;top:969.30px;transform:scaleX(0.9845);">2. United Nations, Department of Economic and Social Affairs, Population Division (2007 and 2015). World Population Prospects: The 2017 Revision</div>
<div class="t" id="t33" style="font-size:9.7px;font-weight:400;color:#333333;left:49.30px;top:979.80px;transform:scaleX(0.9849);">3. United Nations, Food and Agriculture Organization of the United Nations (2012). World Agriculture Towards 2030/2050: The 2012 Revision, ESA Working Paper No. 12-03</div>
<div class="t" id="t34" style="font-size:16px;font-weight:700;color:#000000;left:406.00px;top:1030.70px;transform:scaleX(1.0105);">2</div>
</body></html>
